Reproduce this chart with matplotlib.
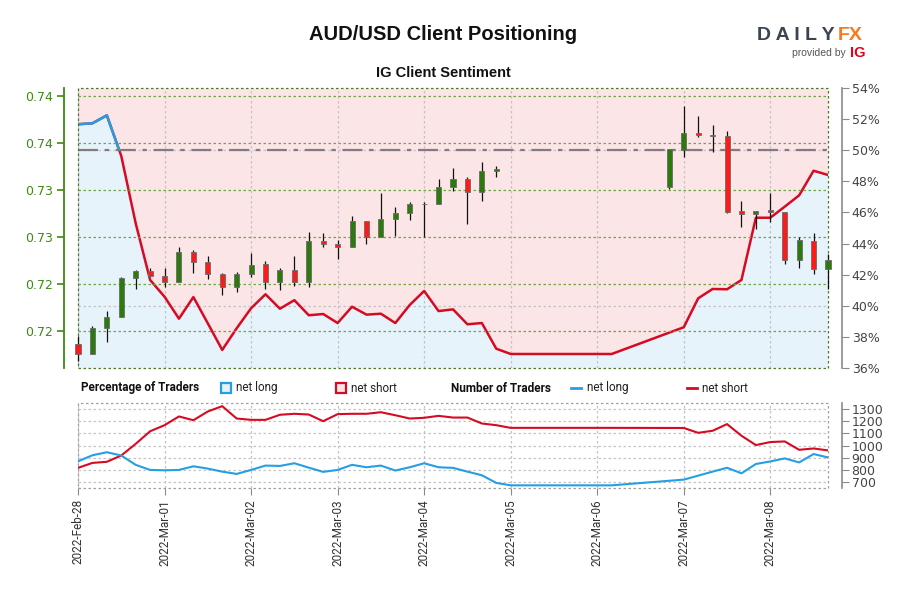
import matplotlib
matplotlib.use('Agg')
import numpy as np
import pandas as pd
import matplotlib.pyplot as plt
import matplotlib.dates as mdates
from matplotlib.patches import Rectangle
from matplotlib.lines import Line2D
from matplotlib.ticker import FuncFormatter, FixedLocator

NARROW = ['Roboto', 'DejaVu Sans']
BOLD = ['Liberation Sans', 'DejaVu Sans']

# 4-hour candles (weekend gap between Mar-04 and Mar-06 20:00)
candle_times = list(pd.date_range('2022-02-28 00:00', '2022-03-04 20:00', freq='4h')) \
    + [pd.Timestamp('2022-03-06 20:00')] \
    + list(pd.date_range('2022-03-07 00:00', '2022-03-08 16:00', freq='4h'))

price_open = [0.71859, 0.71755, 0.72035, 0.72146, 0.72567, 0.72638,
              0.72585, 0.72521, 0.72840, 0.72731, 0.72603, 0.72471,
              0.72606, 0.72710, 0.72524, 0.72649, 0.72518, 0.72961,
              0.72926, 0.72897, 0.73167, 0.72997, 0.73188, 0.73252,
              0.73350, 0.73351, 0.73535, 0.73620, 0.73476, 0.73702,
              0.73535,
              0.73926, 0.74106, 0.74085, 0.74074, 0.73280, 0.73248,
              0.73284, 0.73266, 0.72755, 0.72961, 0.72660]
price_high = [0.71947, 0.72053, 0.72216, 0.72569, 0.72644, 0.72673,
              0.72673, 0.72897, 0.72862, 0.72798, 0.72620, 0.72631,
              0.72827, 0.72745, 0.72673, 0.72801, 0.73056, 0.73046,
              0.72968, 0.73223, 0.73167, 0.73465, 0.73316, 0.73369,
              0.73376, 0.73617, 0.73737, 0.73641, 0.73795, 0.73755,
              0.73933,
              0.74397, 0.74287, 0.74188, 0.74131, 0.73383, 0.73280,
              0.73465, 0.73266, 0.73000, 0.73043, 0.72819]
price_low = [0.71684, 0.71750, 0.71886, 0.72144, 0.72444, 0.72585,
             0.72471, 0.72521, 0.72620, 0.72550, 0.72383, 0.72418,
             0.72571, 0.72444, 0.72436, 0.72479, 0.72471, 0.72890,
             0.72763, 0.72897, 0.72922, 0.72997, 0.73011, 0.73181,
             0.72997, 0.73351, 0.73493, 0.73135, 0.73386, 0.73638,
             0.73511,
             0.73854, 0.74067, 0.73907, 0.73259, 0.73110, 0.73088,
             0.73163, 0.72716, 0.72667, 0.72610, 0.72450]
price_close = [0.71755, 0.72032, 0.72152, 0.72564, 0.72638, 0.72585,
               0.72521, 0.72840, 0.72734, 0.72606, 0.72471, 0.72606,
               0.72702, 0.72524, 0.72649, 0.72521, 0.72957, 0.72926,
               0.72897, 0.73167, 0.72997, 0.73188, 0.73252, 0.73348,
               0.73354, 0.73535, 0.73620, 0.73476, 0.73699, 0.73720,
               0.73933,
               0.74106, 0.74085, 0.74071, 0.73266, 0.73248, 0.73280,
               0.73266, 0.72755, 0.72965, 0.72660, 0.72752]

# sentiment samples
sent_times = list(pd.date_range('2022-02-28 00:00', '2022-03-04 20:00', freq='4h')) \
    + [pd.Timestamp('2022-03-05 00:00'), pd.Timestamp('2022-03-06 04:00')] \
    + list(pd.date_range('2022-03-07 00:00', '2022-03-08 16:00', freq='4h'))

pct_long = [51.67, 51.73, 52.24, 49.63, 45.30, 41.66,
            40.58, 39.17, 40.56, 38.87, 37.16, 38.55,
            39.84, 40.74, 39.81, 40.36, 39.39, 39.47,
            38.89, 39.94, 39.43, 39.49, 38.89, 40.05,
            40.95, 39.66, 39.77, 38.81, 38.89, 37.24,
            36.90, 36.90,
            38.62, 40.48, 41.08, 41.06, 41.66, 45.66,
            45.66, 46.37, 47.10, 48.68, 48.41]

traders_long = [870, 920, 945, 918, 841, 799,
                796, 799, 829, 810, 785, 766,
                799, 835, 832, 854, 818, 783,
                799, 841, 821, 835, 794, 821,
                854, 821, 816, 785, 755, 692,
                672, 672,
                719, 752, 785, 817, 771, 848,
                869, 894, 861, 930, 902]
traders_short = [816, 857, 866, 918, 1014, 1118,
                 1168, 1240, 1209, 1281, 1325, 1223,
                 1212, 1212, 1254, 1262, 1256, 1201,
                 1259, 1262, 1262, 1275, 1250, 1223,
                 1229, 1245, 1231, 1231, 1182, 1168,
                 1146, 1146,
                 1145, 1105, 1122, 1177, 1081, 1004,
                 1029, 1034, 965, 976, 960]

day_ticks = pd.date_range('2022-02-28', '2022-03-08', freq='D')

GREEN_AX = '#3d8b12'
GRAY_AX = '#8a8a8a'
RED = '#d60a22'
BLUE = '#259fe3'
TICK_FS = 9

fig = plt.figure(figsize=(9, 6), dpi=100)
fig.patch.set_facecolor('white')

ax_pct = fig.add_axes([78 / 900, 1 - 368 / 600, 750 / 900, 280 / 600])
ax_px = ax_pct.twinx()
ax_tr = fig.add_axes([78 / 900, 1 - 488 / 600, 750 / 900, 85 / 600])

cx = mdates.date2num(candle_times)
sx = mdates.date2num(sent_times)
dx = mdates.date2num(day_ticks)
xlim = (cx[0], cx[-1])

# --- sentiment background
ax_pct.set_xlim(xlim)
ax_pct.set_ylim(36, 54)
ax_pct.fill_between(sx, pct_long, 36, color='#e6f3fb', lw=0, zorder=1)
ax_pct.fill_between(sx, pct_long, 54, color='#fbe5e6', lw=0, zorder=1)
ax_pct.plot(sx, pct_long, color=RED, lw=1.8, zorder=3)
blue_line, = ax_pct.plot(sx, pct_long, color=BLUE, lw=1.8, zorder=3.1)
clip = Rectangle((xlim[0], 50), xlim[1] - xlim[0], 10, transform=ax_pct.transData)
blue_line.set_clip_path(clip)
ax_pct.axhline(50, color='#857a80', lw=1.6, ls=(0, (9, 3, 2, 3)), zorder=3.5)

ax_pct.yaxis.tick_right()
ax_pct.set_yticks(np.arange(36, 55, 2))
ax_pct.yaxis.set_major_formatter(FuncFormatter(lambda v, p: f'{v:.0f}%'))
ax_pct.yaxis.set_minor_locator(FixedLocator([40, 50]))
ax_pct.yaxis.remove_overlapping_locs = False
ax_pct.set_xticks(dx)
ax_pct.tick_params(axis='x', bottom=False, labelbottom=False)
ax_pct.tick_params(axis='y', which='major', direction='out', length=5, color=GRAY_AX,
                   labelcolor='#444444', labelsize=TICK_FS, pad=2)
ax_pct.tick_params(axis='y', which='minor', length=0)
for lab in ax_pct.get_yticklabels():
    lab.set_family(NARROW)
ax_pct.set_axisbelow('line')
ax_pct.grid(axis='x', color='#c4c4c4', ls=(0, (2, 2)), lw=0.9)
ax_pct.grid(axis='y', which='minor', color='#c4c4c4', ls=(0, (2, 2)), lw=0.9)
for s in ['left', 'top', 'bottom']:
    ax_pct.spines[s].set_visible(False)
ax_pct.spines['right'].set_position(('outward', 10))
ax_pct.spines['right'].set_color(GRAY_AX)
ax_pct.spines['right'].set_linewidth(1.2)

# --- candles
ax_px.set_ylim(0.71606, 0.74585)
ax_px.yaxis.tick_left()
ax_px.set_yticks([0.72, 0.725, 0.73, 0.735, 0.74, 0.745])
ax_px.yaxis.set_major_formatter(FuncFormatter(lambda v, p: f'{v:.2f}'))
ax_px.tick_params(axis='y', direction='out', length=5, width=1.2, color=GREEN_AX,
                  labelcolor=GREEN_AX, labelsize=TICK_FS, pad=3)
for lab in ax_px.get_yticklabels():
    lab.set_family(NARROW)
ax_px.grid(axis='y', color='#6ea845', ls=(0, (2, 2)), lw=0.9)
for s in ['right', 'top', 'bottom']:
    ax_px.spines[s].set_visible(False)
ax_px.spines['left'].set_position(('outward', 10))
ax_px.spines['left'].set_color(GREEN_AX)
ax_px.spines['left'].set_linewidth(1.3)
ax_px.add_patch(Rectangle((0, 0), 1, 1, transform=ax_px.transAxes, fill=False,
                          edgecolor='#4d7a2a', ls=(0, (2, 2)), lw=0.9, clip_on=False))

o = np.array(price_open)
c = np.array(price_close)
up = c >= o
w = 0.058
ax_px.vlines(cx, price_low, price_high, color='#111111', lw=0.9, zorder=4, clip_on=False)
ax_px.bar(cx, np.where(np.abs(c - o) < 0.00004, 0.00004, c - o), bottom=o, width=w,
          color=np.where(up, '#2c7a0c', '#ff1a1a'), edgecolor='#6b6b6b', lw=0.6,
          zorder=5, clip_on=False)
ax_px.set_xlim(xlim)

# --- number of traders
ax_tr.set_xlim(xlim)
ax_tr.set_ylim(650, 1351)
ax_tr.plot(sx, traders_short, color=RED, lw=1.5, zorder=3)
ax_tr.plot(sx, traders_long, color=BLUE, lw=1.5, zorder=3)
ax_tr.yaxis.tick_right()
ax_tr.set_yticks(np.arange(700, 1301, 100))
ax_tr.set_xticks(dx)
ax_tr.xaxis.set_major_formatter(mdates.DateFormatter('%Y-%b-%d'))
ax_tr.tick_params(axis='x', direction='out', length=5, color=GRAY_AX, labelcolor='#333333',
                  labelsize=8.5, labelrotation=90, pad=3)
ax_tr.tick_params(axis='y', direction='out', length=5, color=GRAY_AX, labelcolor='#444444',
                  labelsize=TICK_FS, pad=2)
for lab in ax_tr.get_xticklabels() + ax_tr.get_yticklabels():
    lab.set_family(NARROW)
ax_tr.grid(True, color='#c4c4c4', ls=(0, (2, 2)), lw=0.9)
for s in ['left', 'top', 'bottom']:
    ax_tr.spines[s].set_visible(False)
ax_tr.spines['right'].set_position(('outward', 10))
ax_tr.spines['right'].set_color(GRAY_AX)
ax_tr.spines['right'].set_linewidth(1.2)
ax_tr.add_patch(Rectangle((0, 0), 1, 1, transform=ax_tr.transAxes, fill=False,
                          edgecolor='#a0a0a0', ls=(0, (2, 2)), lw=0.9, clip_on=False))

# --- legend row
ly = 1 - 388 / 600
LEG_FS = 8.5
fig.text(81 / 900, ly, 'Percentage of Traders', family=NARROW, weight='bold',
         fontsize=LEG_FS, va='center', color='#111111')
fig.patches.append(Rectangle((221 / 900, ly - 5 / 600), 10 / 900, 10 / 600,
                             transform=fig.transFigure, facecolor='#e6f3fb',
                             edgecolor=BLUE, lw=1.6))
fig.text(236 / 900, ly, 'net long', family=NARROW, fontsize=LEG_FS, va='center', color='#222222')
fig.patches.append(Rectangle((336 / 900, ly - 5 / 600), 10 / 900, 10 / 600,
                             transform=fig.transFigure, facecolor='#fbe5e6',
                             edgecolor=RED, lw=1.6))
fig.text(351 / 900, ly, 'net short', family=NARROW, fontsize=LEG_FS, va='center', color='#222222')
fig.text(451 / 900, ly, 'Number of Traders', family=NARROW, weight='bold',
         fontsize=LEG_FS, va='center', color='#111111')
fig.lines.append(Line2D([571 / 900, 581 / 900], [ly, ly], transform=fig.transFigure,
                        color=BLUE, lw=2))
fig.text(587 / 900, ly, 'net long', family=NARROW, fontsize=LEG_FS, va='center', color='#222222')
fig.lines.append(Line2D([687 / 900, 697 / 900], [ly, ly], transform=fig.transFigure,
                        color=RED, lw=2))
fig.text(702 / 900, ly, 'net short', family=NARROW, fontsize=LEG_FS, va='center', color='#222222')

# --- titles
fig.text(443 / 900, 1 - 35 / 600, 'AUD/USD Client Positioning', ha='center', va='center',
         family=BOLD, weight='bold', fontsize=14.5, color='#111111')
fig.text(443 / 900, 1 - 73 / 600, 'IG Client Sentiment', ha='center', va='center',
         family=BOLD, weight='bold', fontsize=10.5, color='#111111')

# --- logo
fig.text(835 / 900, 1 - 36 / 600, 'D A I L Y', ha='right', va='center', family=BOLD,
         weight='bold', fontsize=14, color='#3b4452')
fig.text(838 / 900, 1 - 36 / 600, 'FX', ha='left', va='center', family=BOLD,
         weight='bold', fontsize=14, color='#f47b20')
fig.text(846 / 900, 1 - 53 / 600, 'provided by', ha='right', va='center', family=BOLD,
         fontsize=7.5, color='#555555')
fig.text(850 / 900, 1 - 53 / 600, 'IG', ha='left', va='center', family=BOLD,
         weight='bold', fontsize=10.5, color='#e2001a')

fig.savefig('out.png', dpi=100, facecolor='white')
